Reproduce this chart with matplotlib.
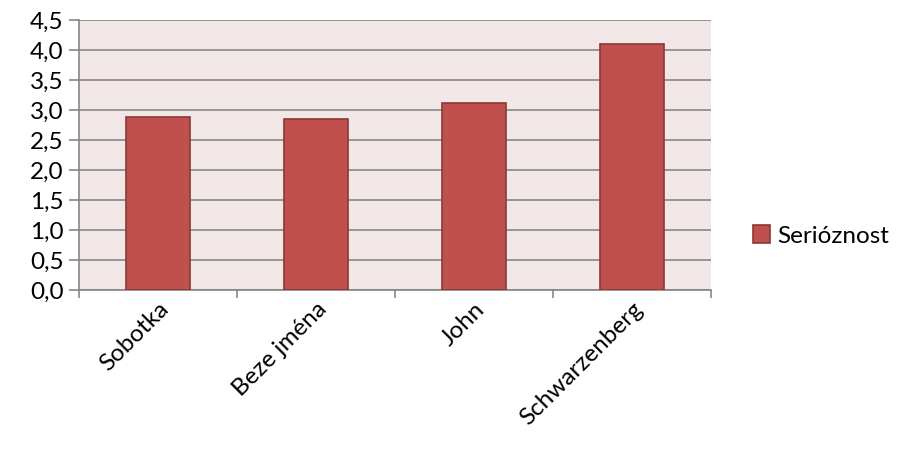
import matplotlib.pyplot as plt
from matplotlib.ticker import FuncFormatter, MultipleLocator

# data
kandidati = ["Sobotka", "Beze jména", "John", "Schwarzenberg"]
serioznost = [2.88, 2.85, 3.11, 4.10]
nazev_rady = "Serióznost"

plt.rcParams['font.family'] = ['Lato', 'DejaVu Sans']

fig = plt.figure(figsize=(9.04, 4.49), dpi=100)
ax = fig.add_axes([79 / 904, 1 - 290 / 449, 632 / 904, 270 / 449])
ax.set_facecolor('#F2E7E7')

x = range(len(kandidati))
ax.bar(x, serioznost, width=0.4, color='#C0504D', edgecolor='#8C3836',
       linewidth=1.2, label=nazev_rady, zorder=3)

ax.set_xlim(-0.5, len(kandidati) - 0.5)
ax.set_ylim(0, 4.5)
ax.yaxis.set_major_locator(MultipleLocator(0.5))
ax.yaxis.set_major_formatter(FuncFormatter(lambda v, p: f"{v:.1f}".replace('.', ',')))
ax.grid(axis='y', color='#868686', linewidth=1.2, zorder=1)

# category ticks sit on the boundaries, labels at the centres
ax.set_xticks([i - 0.5 for i in range(len(kandidati) + 1)])
ax.set_xticklabels([])
ax.set_xticks(list(x), minor=True)
ax.set_xticklabels(kandidati, minor=True, rotation=45, ha='right', va='top',
                   rotation_mode='anchor', fontsize=17.5)
ax.tick_params(axis='x', which='minor', length=0, pad=6)
ax.tick_params(axis='x', which='major', length=6, color='#868686', width=1.2)
ax.tick_params(axis='y', length=7, color='#868686', width=1.2, labelsize=17.5, pad=4)

for s in ['top', 'right']:
    ax.spines[s].set_visible(False)
for s in ['left', 'bottom']:
    ax.spines[s].set_color('#868686')
    ax.spines[s].set_linewidth(1.2)

fig.legend(loc='center left', bbox_to_anchor=(731 / 904, 1 - 236 / 449),
           frameon=False, fontsize=17.5, handlelength=0.7, handleheight=0.7,
           handletextpad=0.3)

fig.savefig('out.png', dpi=100)
